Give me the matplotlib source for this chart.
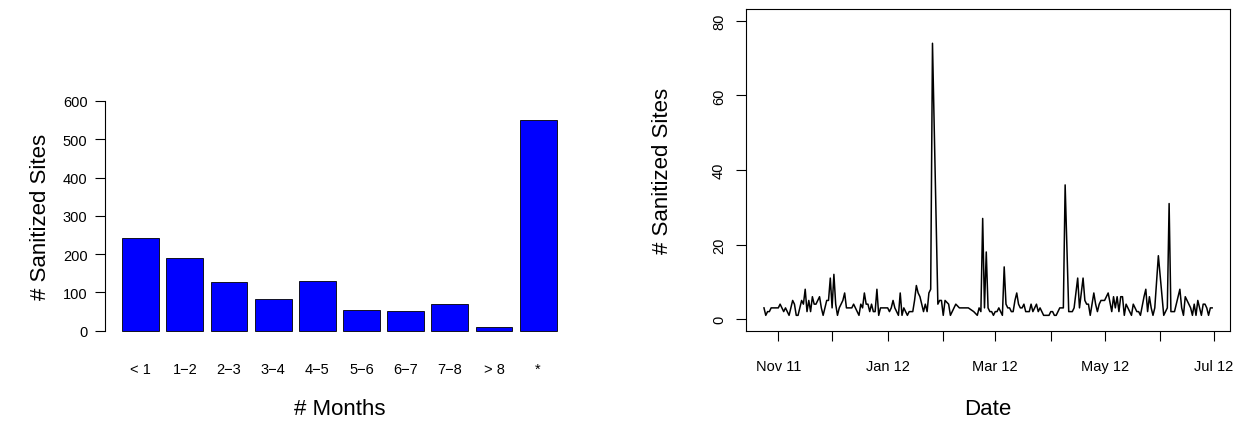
import pandas as pd
import matplotlib
matplotlib.use("Agg")
import matplotlib.pyplot as plt

plt.rcParams['font.family'] = ['Liberation Sans', 'DejaVu Sans']

# --- left panel: sites by number of months ---
month_bins = ['< 1', '1\u22122', '2\u22123', '3\u22124', '4\u22125',
              '5\u22126', '6\u22127', '7\u22128', '> 8', '*']
sites_per_bin = [241, 190, 127, 82, 131, 53, 51, 69, 9, 550]

# --- right panel: sanitized sites per day (day offset from start date) ---
start_date = '2011-10-24'
day_offset = [0, 1, 2, 3, 4, 5, 6, 7, 8, 9, 10, 11, 12, 13, 14, 15, 16, 17, 18, 19,
              20, 21, 22, 23, 24, 25, 26, 27, 28, 29, 30, 31, 32, 33, 34, 35, 36, 37, 38, 39,
              40, 41, 42, 43, 44, 45, 46, 47, 48, 49, 50, 51, 52, 53, 54, 55, 56, 57, 58, 59,
              60, 61, 62, 63, 64, 65, 66, 67, 68, 69, 70, 71, 72, 73, 74, 75, 76, 77, 78, 79,
              80, 81, 82, 83, 84, 85, 86, 87, 88, 89, 90, 91, 92, 93, 94, 97, 98, 99, 100, 101,
              103, 104, 105, 107, 109, 111, 114, 117, 119, 120, 121, 122, 123, 124, 125, 126, 127, 128, 129, 130,
              131, 132, 133, 134, 135, 136, 137, 138, 139, 140, 141, 142, 143, 144, 145, 146, 147, 148, 149, 150,
              151, 152, 153, 154, 155, 156, 157, 158, 159, 160, 161, 162, 163, 164, 165, 166, 167, 168, 170, 171,
              172, 173, 175, 176, 178, 179, 180, 181, 182, 184, 185, 186, 187, 188, 189, 190, 191, 192, 194, 195,
              196, 197, 198, 199, 200, 201, 202, 203, 204, 205, 206, 207, 208, 209, 210, 212, 213, 214, 215, 216,
              217, 218, 220, 223, 224, 225, 226, 227, 228, 229, 230, 232, 233, 234, 235, 236, 237, 238, 239, 240,
              241, 242, 243, 244, 245, 246, 247, 248, 249, 250]
daily_sites = [3, 1, 2, 2, 3, 3, 3, 3, 3, 4, 3, 2, 3, 2, 1, 3, 5, 4, 1, 1,
               3, 5, 4, 8, 2, 5, 2, 6, 4, 4, 5, 6, 3, 1, 3, 5, 5, 11, 3, 12,
               4, 1, 3, 4, 5, 7, 3, 3, 3, 3, 4, 3, 2, 1, 4, 3, 7, 4, 4, 2,
               4, 2, 2, 8, 1, 3, 3, 3, 3, 3, 2, 3, 5, 3, 2, 1, 7, 1, 3, 2,
               1, 2, 2, 2, 5, 9, 7, 6, 4, 2, 4, 2, 7, 8, 74, 4, 5, 5, 1, 5,
               4, 1, 2, 4, 3, 3, 3, 2, 1, 3, 2, 27, 3, 18, 3, 2, 2, 1, 2, 2,
               3, 2, 1, 14, 4, 3, 3, 2, 2, 5, 7, 4, 3, 3, 4, 2, 2, 2, 4, 2,
               3, 4, 2, 3, 2, 1, 1, 1, 1, 2, 2, 1, 1, 2, 3, 3, 3, 36, 2, 2,
               2, 3, 11, 3, 11, 5, 4, 4, 1, 7, 4, 2, 4, 5, 5, 5, 6, 7, 2, 6,
               3, 6, 2, 6, 6, 1, 4, 3, 2, 1, 4, 3, 2, 2, 1, 6, 8, 2, 6, 3,
               1, 3, 17, 1, 2, 3, 31, 2, 2, 2, 4, 8, 3, 1, 6, 5, 4, 3, 1, 4,
               1, 5, 3, 1, 4, 4, 3, 1, 3, 3]
month_ticks = ['2011-11-01', '2011-12-01', '2012-01-01', '2012-02-01', '2012-03-01',
               '2012-04-01', '2012-05-01', '2012-06-01', '2012-07-01']
month_tick_labels = ['Nov 11', '', 'Jan 12', '', 'Mar 12', '', 'May 12', '', 'Jul 12']

tick_size = 10.5
label_size = 16

fig = plt.figure(figsize=(12.36, 4.27), dpi=100)

# --- left: bar chart, R style (only the y axis drawn) ---
ax1 = fig.add_axes([0.0849, 0.2016, 0.3794, 0.5813])
lefts = [0.2 + 1.2 * i for i in range(len(sites_per_bin))]
ax1.bar(lefts, sites_per_bin, width=1.0, align='edge', color='#0000FF',
        edgecolor='black', linewidth=0.6)
ax1.set_xlim(-0.272, 12.472)
ax1.set_ylim(-24, 624)
for side in ['top', 'right', 'bottom']:
    ax1.spines[side].set_visible(False)
ax1.spines['left'].set_bounds(0, 600)
ax1.spines['left'].set_linewidth(0.8)
ax1.set_yticks([0, 100, 200, 300, 400, 500, 600])
ax1.tick_params(axis='y', direction='out', length=7.5, width=0.8, pad=5, labelsize=tick_size)
ax1.set_xticks([l + 0.5 for l in lefts])
ax1.set_xticklabels(month_bins)
ax1.tick_params(axis='x', length=0, pad=16, labelsize=tick_size)
ax1.set_ylabel('# Sanitized Sites', fontsize=label_size, va='center')
ax1.yaxis.set_label_coords(-0.138, 0.5)
ax1.set_xlabel('# Months', fontsize=label_size, va='center')
ax1.xaxis.set_label_coords(0.5, -0.278)

# --- right: time series ---
ax2 = fig.add_axes([0.6036, 0.2225, 0.3916, 0.7541])
dates = pd.to_datetime(start_date) + pd.to_timedelta(day_offset, unit='D')
ax2.plot(dates, daily_sites, color='black', linewidth=1.1)
span = dates.max() - dates.min()
ax2.set_xlim(dates.min() - 0.04 * span, dates.max() + 0.04 * span)
ax2.set_ylim(-3.2, 83.2)
for side in ax2.spines.values():
    side.set_linewidth(0.8)
ax2.set_yticks([0, 20, 40, 60, 80])
ax2.set_yticklabels(['0', '20', '40', '60', '80'], rotation=90, va='center')
ax2.set_xticks(pd.to_datetime(month_ticks))
ax2.set_xticklabels(month_tick_labels)
ax2.tick_params(axis='both', direction='out', length=7.5, width=0.8, labelsize=tick_size)
ax2.tick_params(axis='x', pad=13)
ax2.tick_params(axis='y', pad=7)
ax2.set_ylabel('# Sanitized Sites', fontsize=label_size, va='center')
ax2.yaxis.set_label_coords(-0.1736, 0.5)
ax2.set_xlabel('Date', fontsize=label_size, va='center')
ax2.xaxis.set_label_coords(0.5, -0.242)

fig.savefig('out.png', dpi=100)
